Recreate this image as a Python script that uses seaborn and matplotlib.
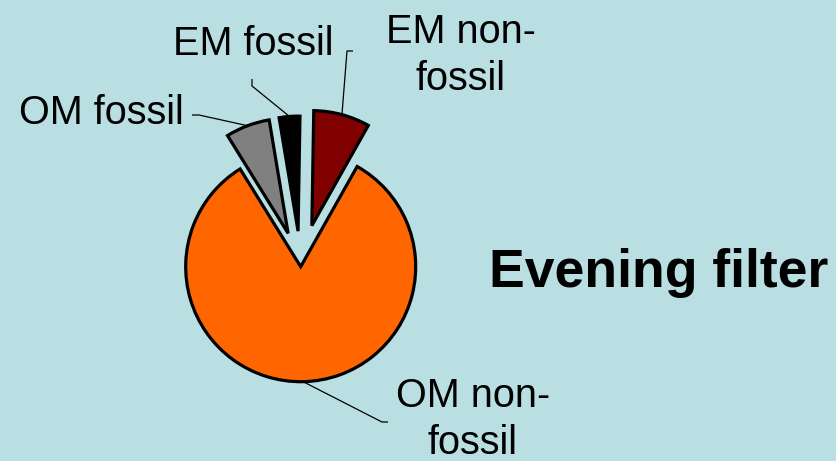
import numpy as np
import matplotlib
matplotlib.use("Agg")
import matplotlib.pyplot as plt
import seaborn as sns

# Carbon fractions of the evening filter (percent of total)
categories = ["EM non-fossil", "EM fossil", "OM fossil", "OM non-fossil"]
label_text = ["EM non-\nfossil", "EM fossil", "OM fossil", "OM non-\nfossil"]
shares = [7.9, 2.9, 6.2, 83.0]
title = "Evening filter"

radius = 115
# pull-out distance of each slice, as a fraction of the radius
explode_frac = [0.37, 0.31, 0.31, 0.0]
colors = sns.color_palette(["#800000", "#000000", "#808080", "#FF6600"])

sns.set_theme(style="white")
plt.rcParams["font.family"] = ["Liberation Sans", "DejaVu Sans"]

W, H = 836, 461
BG = "#B9DFE3"


def px(x, y):
    """Convert a top-left pixel position into axes data units."""
    return x, H - y


fig = plt.figure(figsize=(W / 100, H / 100), dpi=100)
fig.patch.set_facecolor(BG)
ax = fig.add_axes([0, 0, 1, 1])
ax.set_facecolor(BG)

wedges, _ = ax.pie(
    shares,
    explode=[f * radius for f in explode_frac],
    colors=colors,
    startangle=60.6,
    counterclock=True,
    radius=radius,
    center=px(300.7, 266.7),
    wedgeprops=dict(edgecolor="black", linewidth=2.3),
)
ax.set_xlim(0, W)
ax.set_ylim(0, H)
ax.set_aspect("equal")
ax.axis("off")

# label anchor: (text centre, leader elbow, leader end near text)
layout = {
    "EM non-fossil": ((461, 56), (347, 51), (353, 51)),
    "EM fossil": ((253, 44), (252, 86), (252, 79)),
    "OM fossil": ((101, 113), (199, 115), (192, 115)),
    "OM non-fossil": ((473, 419), (382, 422), (388, 422)),
}

for w, name, txt in zip(wedges, categories, label_text):
    mid = np.deg2rad((w.theta1 + w.theta2) / 2)
    cx, cy = w.center
    tip = (cx + w.r * np.cos(mid), cy + w.r * np.sin(mid))
    (tx, ty), elbow, end = layout[name]
    ex, ey = px(*elbow)
    nx, ny = px(*end)
    ax.plot([tip[0], ex, nx], [tip[1], ey, ny], color="black", lw=0.9,
            solid_capstyle="butt", zorder=1)
    ax.text(*px(tx, ty), txt, ha="center", va="center", fontsize=28.5,
            linespacing=1.3, color="black")

ax.text(*px(489, 287), title, ha="left", va="baseline", fontsize=38.5,
        fontweight="bold", color="black")

fig.savefig("out.png", dpi=100, facecolor=BG)
